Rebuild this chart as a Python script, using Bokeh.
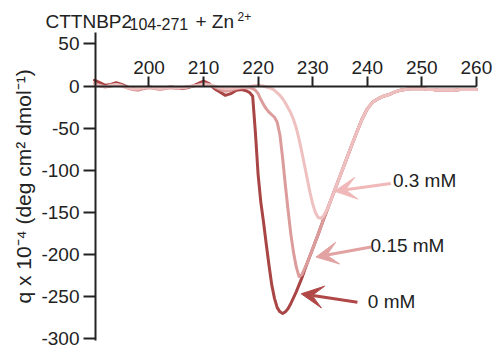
from bokeh.plotting import figure
from bokeh.models import FixedTicker, Label, Arrow, VeeHead
from bokeh.embed import file_html
from bokeh.resources import INLINE

# ---------------- data ----------------
x_ticks = [200, 210, 220, 230, 240, 250, 260]
y_ticks = [50, 0, -50, -100, -150, -200, -250, -300]
y_tick_labels = ["50", "0", "-50", "-100", "-150", "-200", "-250", "-300"]

rise_wl = [229, 230, 231, 232, 233, 234, 235, 236, 237, 238, 239, 240, 241, 242, 243, 244,
           245, 246, 247, 248, 249, 250, 251, 252, 253, 254, 255, 256, 257, 258, 259, 260]
rise_cd = [-210, -193, -176, -158, -141, -124, -107, -90, -73, -56, -40, -27, -19, -15, -12, -10,
           -7, -5, -4, -3, -3, -3, -4, -4, -5, -5, -5, -5, -4, -4, -4, -4]

wl_0mM = list(range(190, 219)) + [218.5, 219, 219.5, 220, 220.5, 221, 221.5, 222, 222.5, 223,
                                   223.5, 224, 224.5, 225, 225.5, 226, 226.5, 227, 227.5, 228, 228.5] + rise_wl
cd_0mM = [7, 4, 1, 2, 4, 2, -1, -3, -4, -3, -1, -2, -3, -2, -1, -2, -3, -2, 0, 3, 6, 3, -3, -7, -11, -9, -5, -4, -6,
          -8, -12, -55, -105, -138, -162, -188, -213, -236, -252,
          -263, -268, -270, -268, -264, -258, -251, -244, -236, -228, -219] + rise_cd

wl_015mM = list(range(190, 219)) + [218.5, 219, 219.5, 220, 220.5, 221, 221.5, 222, 222.5, 223,
                                     223.5, 224, 224.5, 225, 225.5, 226, 226.5, 227, 227.5, 228, 228.5] + rise_wl
cd_015mM = [3, 1, -1, 0, 2, 1, -2, -4, -5, -3, -2, -3, -4, -3, -2, -3, -2, -1, 0, 1, 3, 2, -1, -4, -6, -5, -3, -2, -2,
            -2, -3, -5, -9, -16, -22, -27, -31, -34, -37,
            -43, -58, -86, -118, -148, -176, -198, -215, -226, -224, -217] + rise_cd

wl_03mM = list(range(190, 222)) + [221.5, 222, 222.5, 223, 223.5, 224, 224.5, 225, 225.5, 226, 226.5,
                                    227, 227.5, 228, 228.5, 229, 229.5, 230, 230.5, 231, 231.5, 232, 232.5, 233] + rise_wl[5:]
cd_03mM = [2, 0, -1, 1, 2, 0, -2, -3, -3, -2, -1, -2, -3, -2, -1, -2, -2, -1, 0, 1, 2, 1, 0, -2, -3, -3, -2, -1, -1, 0, 1, 0,
           -1, -2, -3, -5, -8, -11, -15, -20, -26, -32, -40,
           -50, -63, -78, -94, -110, -126, -140, -150, -156, -157, -154, -148, -141] + rise_cd[5:]

series_names = ["0 mM", "0.15 mM", "0.3 mM"]
colors = ["#a94545", "#dc9c9c", "#efc0c0"]
arrow_colors = ["#b04848", "#e2a2a2", "#f0b8b8"]

# annotation arrows (tail -> tip, data units) and label anchors
arrow_tail_x = [238.2, 240.7, 244.3]
arrow_tail_y = [-256.5, -191.0, -115.6]
arrow_tip_x = [227.9, 230.6, 234.0]
arrow_tip_y = [-246.6, -203.0, -124.8]
label_x = [240.1, 240.6, 244.7]
label_y = [-256.3, -189.4, -112.1]

# ---------------- layout constants ----------------
W, H = 501, 354
X_AX_START, X_AX_END = 190.2, 260      # x axis extent
Y_AX_BOT, Y_AX_TOP = -302, 63.6        # y axis extent
PX_PER_NM = 5.457                      # horizontal scale
PX_PER_UNIT = 0.8423                   # vertical scale
AXIS_LEFT_PX = 95                      # y axis position in the window
ZERO_PX = 85.6                         # y = 0 position in the window

x0 = X_AX_START - AXIS_LEFT_PX / PX_PER_NM
x1 = x0 + W / PX_PER_NM
y1 = ZERO_PX / PX_PER_UNIT
y0 = y1 - H / PX_PER_UNIT

def dx(px):
    return x0 + px / PX_PER_NM

def dy(py):
    return y1 - py / PX_PER_UNIT

# title pieces: text, left px, baseline px, size
title_text = ["CTTNBP2", "104-271", "+ Zn", "2+"]
title_x = [45, 129, 195, 237]
title_y = [21, 23.5, 21, 16]
title_size = ["19px", "16px", "19px", "12px"]

FONT = "Liberation Sans"
INK = "#222222"

p = figure(width=W, height=H, x_range=(x0, x1), y_range=(y0, y1),
           x_axis_location="above", y_axis_location="left",
           output_backend="svg", toolbar_location=None, min_border=0)
p.outline_line_color = None
p.grid.visible = False

xa = p.xaxis[0]
xa.fixed_location = 0
xa.bounds = (X_AX_START, X_AX_END)
xa.ticker = FixedTicker(ticks=x_ticks)
xa.major_tick_out = 10
xa.major_tick_in = 0
xa.minor_tick_line_color = None
xa.axis_line_width = 2
xa.major_tick_line_width = 2
xa.axis_line_color = INK
xa.major_tick_line_color = INK
xa.major_label_text_font = FONT
xa.major_label_text_font_size = "19px"
xa.major_label_text_color = INK
xa.major_label_standoff = 2

ya = p.yaxis[0]
ya.fixed_location = X_AX_START
ya.bounds = (Y_AX_BOT, Y_AX_TOP)
ya.ticker = FixedTicker(ticks=y_ticks)
ya.major_label_overrides = {v: s for v, s in zip(y_ticks, y_tick_labels)}
ya.major_tick_out = 12
ya.major_tick_in = 0
ya.minor_tick_line_color = None
ya.axis_line_width = 2
ya.major_tick_line_width = 2
ya.axis_line_color = INK
ya.major_tick_line_color = INK
ya.major_label_text_font = FONT
ya.major_label_text_font_size = "19px"
ya.major_label_text_color = INK
ya.major_label_standoff = 4
ya.axis_label = "q x 10\u207b\u2074 (deg cm\u00b2 dmol\u207b\u00b9)"
ya.axis_label_text_font = FONT
ya.axis_label_text_font_size = "21px"
ya.axis_label_text_font_style = "normal"
ya.axis_label_text_color = INK
ya.axis_label_standoff = 3

for wl, cd, c in [(wl_0mM, cd_0mM, colors[0]), (wl_015mM, cd_015mM, colors[1]), (wl_03mM, cd_03mM, colors[2])]:
    p.line(wl, cd, line_color=c, line_width=3, line_join="round", line_cap="round")

for i in range(3):
    p.add_layout(Arrow(x_start=arrow_tail_x[i], y_start=arrow_tail_y[i],
                       x_end=arrow_tip_x[i], y_end=arrow_tip_y[i],
                       line_color=arrow_colors[i], line_width=3,
                       end=VeeHead(size=22, fill_color=arrow_colors[i], line_color=arrow_colors[i])))
    p.add_layout(Label(x=label_x[i], y=label_y[i], text=series_names[i], text_font=FONT,
                       text_font_size="19px", text_color=INK, text_baseline="middle"))

for i in range(len(title_text)):
    p.add_layout(Label(x=dx(title_x[i]), y=dy(title_y[i]), text=title_text[i], text_font=FONT,
                       text_font_size=title_size[i], text_color=INK, text_baseline="alphabetic"))

open("out.html", "w").write(file_html(p, INLINE))
